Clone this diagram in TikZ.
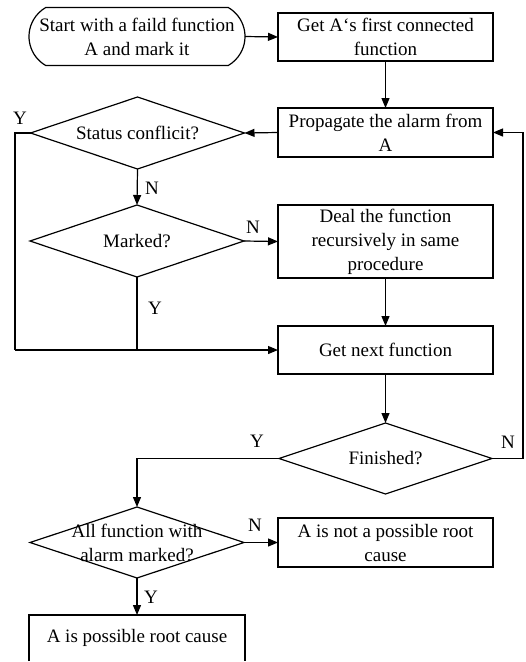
\documentclass[tikz,border=0pt]{standalone}
\usepackage{fontspec}
\setmainfont{Liberation Serif}
\usetikzlibrary{shapes.misc,shapes.geometric,arrows.meta}
\begin{document}
\begin{tikzpicture}[x=1pt,y=-1pt,
  every node/.style={font=\fontsize{19}{24}\selectfont},
  procbox/.style={draw,line width=1.2pt,rectangle,minimum width=215pt,inner sep=0pt,outer sep=0pt,align=center},
  termbox/.style={draw,line width=1.2pt,rounded rectangle,rounded rectangle arc length=120,minimum width=216pt,minimum height=58pt,inner sep=0pt,outer sep=0pt,align=center},
  decbox/.style={draw,line width=1.2pt,diamond,minimum width=214pt,minimum height=72pt,inner sep=0pt,outer sep=0pt},
  dectext/.style={align=center,inner sep=0pt},
  lbl/.style={inner sep=0pt},
  conn/.style={line width=1.2pt},
  arr/.style={line width=1.2pt,-{Triangle[length=10pt,width=8pt]}}
]
\useasboundingbox (0,0) rectangle (526,662);

\node[termbox] (start) at (137,36.5) {Start with a faild function\\A and mark it};
\node[procbox,minimum height=48pt] (b1) at (385.5,37) {Get A\symbol{96}s first connected\\function};
\node[procbox,minimum height=49pt] (b2) at (385.5,132.5) {Propagate the alarm from\\A};
\node[decbox] (d1) at (137.5,133) {};
\node[dectext] (t1) at (d1.center) {Status conflicit?};
\node[decbox] (d2) at (137,241) {};
\node[dectext] (t2) at (d2.center) {Marked?};
\node[procbox,minimum height=73pt] (b3) at (385.5,241.5) {Deal the function\\recursively in same\\procedure};
\node[procbox,minimum height=48pt] (b4) at (385.5,350) {Get next function};
\node[decbox,minimum width=213pt,minimum height=71pt] (d3) at (385.5,458.5) {};
\node[dectext] (t3) at (d3.center) {Finished?};
\node[decbox,minimum height=71pt] (d4) at (137,542.5) {};
\node[dectext] (t4) at (d4.center) {All function with\\alarm marked?};
\node[procbox,minimum height=49pt] (b5) at (385.5,542.5) {A is not a possible root\\cause};
\node[procbox,draw=none,minimum width=216pt,minimum height=80pt,anchor=north] (b6) at (137,615) {};
\draw[conn] (b6.west |- 0,661) -- (b6.north west) -- (b6.north east) -- (b6.east |- 0,661);
\node (t6) at (137,638) {A is possible root cause};

\coordinate (c1) at (15,133);
\coordinate (c2) at (15,350);
\coordinate (c3) at (137,350);
\coordinate (c4) at (523,458.5);
\coordinate (c5) at (523,132.5);
\coordinate (c6) at (137,458.5);

\draw[arr] (start.east) -- (b1.west);
\draw[arr] (b1.south) -- (b2.north);
\draw[arr] (b2.west) -- (d1.east);
\draw[conn] (d1.west) -- (c1) -- (c2);
\draw[arr] (d1.south) -- (d2.north);
\draw[arr] (d2.east) -- (b3.west);
\draw[conn] (d2.south) -- (c3);
\draw[arr] (c2) -- (b4.west);
\draw[arr] (b3.south) -- (b4.north);
\draw[arr] (b4.south) -- (d3.north);
\draw[arr] (d3.east) -- (c4) -- (c5) -- (b2.east);
\draw[arr] (d3.west) -- (c6) -- (d4.north);
\draw[arr] (d4.east) -- (b5.west);
\draw[arr] (d4.south) -- (b6.north);

\node[lbl] (y1) at (20,118) {Y};
\node[lbl] (n1) at (152,188) {N};
\node[lbl] (n2) at (253,227) {N};
\node[lbl] (y2) at (155,308) {Y};
\node[lbl] (y3) at (257,441) {Y};
\node[lbl] (n3) at (508,442) {N};
\node[lbl] (n4) at (255,525) {N};
\node[lbl] (y4) at (151,597) {Y};
\end{tikzpicture}
\end{document}
